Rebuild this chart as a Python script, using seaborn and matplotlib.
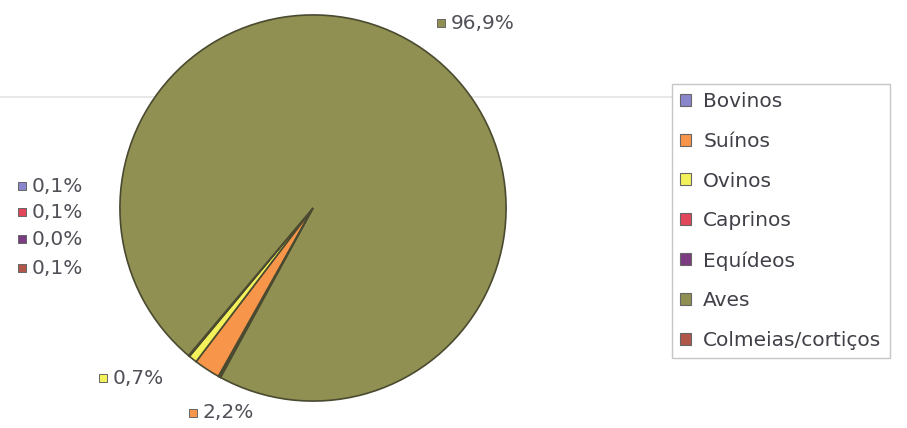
import matplotlib
matplotlib.use("Agg")
import matplotlib.pyplot as plt
import seaborn as sns

sns.set_theme(style="white")
plt.rcParams["font.family"] = ["DejaVu Sans"]

# Distribution of livestock units by species (%)
categories = ["Bovinos", "Suínos", "Ovinos", "Caprinos", "Equídeos", "Aves", "Colmeias/cortiços"]
values = [0.1, 2.2, 0.7, 0.1, 0.0, 96.9, 0.1]
colors = ["#8a86cc", "#f7964a", "#f4f25a", "#e2465a", "#7c3c82", "#909052", "#b0574a"]

W, H = 907, 428
fig = plt.figure(figsize=(W / 100, H / 100), dpi=100)
fig.patch.set_facecolor("white")

# background overlay in pixel coordinates (rule line)
bg = fig.add_axes([0, 0, 1, 1], zorder=0)
bg.set_xlim(0, W)
bg.set_ylim(H, 0)
bg.axis("off")
bg.axhline(97, xmin=0, xmax=672 / W, color="#e4e4e4", lw=1.2)

# pie
cx, cy, r = 313, 208, 195
pax = fig.add_axes([(cx - r) / W, (H - cy - r) / H, 2 * r / W, 2 * r / H], zorder=1)
wedges, _ = pax.pie(values, colors=colors, startangle=241, counterclock=False,
                    wedgeprops=dict(edgecolor="#4a4a30", linewidth=1.2))
pax.set_xlim(-1.01, 1.01)
pax.set_ylim(-1.01, 1.01)
pax.set_aspect("equal")
pax.axis("off")

# value labels with coloured squares
label_pos = {
    "Aves": (441, 23),
    "Bovinos": (22, 186),
    "Caprinos": (22, 212),
    "Equídeos": (22, 239),
    "Colmeias/cortiços": (22, 268),
    "Ovinos": (103, 378),
    "Suínos": (193, 413),
}
lab = fig.add_axes([0, 0, 1, 1], zorder=3)
lab.set_xlim(0, W)
lab.set_ylim(H, 0)
lab.axis("off")
for cat, val, col in zip(categories, values, colors):
    x, y = label_pos[cat]
    lab.scatter([x], [y], marker="s", s=40, color=col, edgecolors="#666666", linewidths=0.7)
    lab.text(x + 10, y, f"{val:.1f}%".replace(".", ","), va="center", ha="left",
             fontsize=14.5, color="#505058")

# legend
leg = fig.legend(wedges, categories, loc="upper left",
                 bbox_to_anchor=(672 / W, 1 - 84 / H), frameon=True, fancybox=False,
                 fontsize=14.5, labelspacing=1.03, handlelength=0.55, handleheight=0.55,
                 handletextpad=0.6, borderpad=0.4, borderaxespad=0)
leg.get_frame().set_edgecolor("#b8b8b8")
leg.get_frame().set_linewidth(1.0)
for h in leg.legend_handles:
    h.set_linewidth(0.8)
    h.set_edgecolor("#666666")
for t in leg.get_texts():
    t.set_color("#404048")

fig.savefig("out.png", dpi=100)
